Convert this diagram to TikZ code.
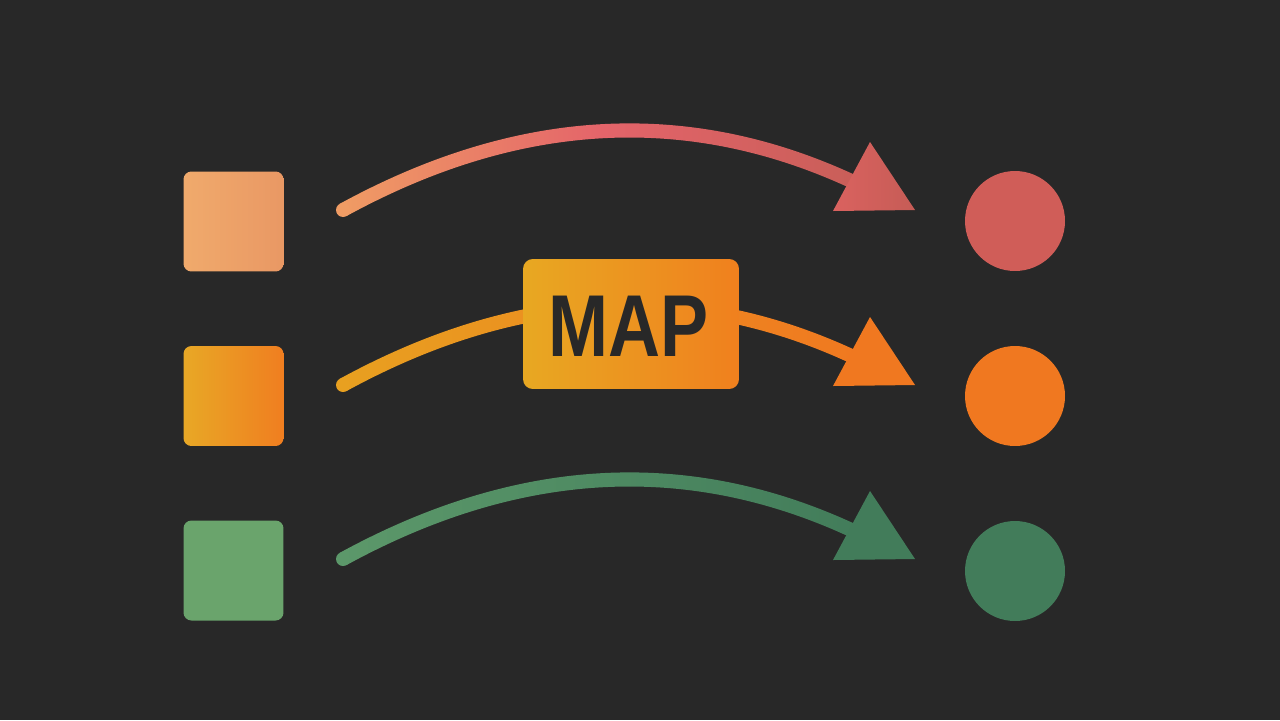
\documentclass[tikz,border=0pt]{standalone}
\usepackage{fontspec}
\newfontfamily\mapfont{Liberation Sans}
\usetikzlibrary{calc}
\definecolor{bg}{HTML}{282828}
\definecolor{sqA1}{HTML}{F0AA6C}
\definecolor{sqA2}{HTML}{E99864}
\definecolor{sqB1}{HTML}{E8A826}
\definecolor{sqB2}{HTML}{F07E20}
\definecolor{sqC}{HTML}{6AA46C}
\definecolor{ciA}{HTML}{D05D58}
\definecolor{ciB}{HTML}{F07820}
\definecolor{ciC}{HTML}{427C5A}
\definecolor{cuA1}{HTML}{F09C64}
\definecolor{cuA2}{HTML}{E4646A}
\definecolor{cuA3}{HTML}{C85E58}
\definecolor{cuB1}{HTML}{E8A020}
\definecolor{cuB2}{HTML}{EC8C20}
\definecolor{cuB3}{HTML}{F07820}
\definecolor{cuC1}{HTML}{5C986A}
\definecolor{cuC2}{HTML}{4E8A62}
\definecolor{cuC3}{HTML}{427C5A}
\definecolor{trA1}{HTML}{DA625F}
\definecolor{trA2}{HTML}{C65C56}
\definecolor{mapA}{HTML}{E8A822}
\definecolor{mapB}{HTML}{F0801E}
\newcommand\gradconn[4]{%
  \coordinate (s#1t) at ($(s#1)!0.14cm!90:(k#1)$);
  \coordinate (s#1b) at ($(s#1)!0.14cm!-90:(k#1)$);
  \coordinate (e#1t) at ($(e#1)!0.14cm!-90:(k#1)$);
  \coordinate (e#1b) at ($(e#1)!0.14cm!90:(k#1)$);
  \coordinate (k#1t) at ($(k#1)+(0,-7.9)$);
  \coordinate (k#1b) at ($(k#1)+(0,7.9)$);
  \shade[left color=#2, right color=#4, middle color=#3]
    (s#1t) .. controls ($(s#1t)!0.6667!(k#1t)$) and ($(e#1t)!0.6667!(k#1t)$) .. (e#1t)
    -- (e#1b) .. controls ($(e#1b)!0.6667!(k#1b)$) and ($(s#1b)!0.6667!(k#1b)$) .. (s#1b)
    -- cycle;
  \fill[#2] (s#1) circle[radius=0.14cm];
}
\tikzset{
  sqnode/.style={minimum width=2cm, minimum height=2cm, rounded corners=4.5pt, inner sep=0pt},
  cinode/.style={circle, minimum size=2cm, inner sep=0pt},
  mapbox/.style={minimum width=4.32cm, minimum height=2.6cm, rounded corners=5.6pt, inner sep=0pt, left color=mapA, right color=mapB},
  maptext/.style={inner sep=0pt, text=bg, font=\mapfont\bfseries\fontsize{50}{50}\selectfont, xscale=0.82}
}
\begin{document}
\begin{tikzpicture}[x=0.02cm, y=-0.02cm]
\fill[bg] (0,0) rectangle (1280,720);
\useasboundingbox (0,0) rectangle (1280,720);
% source squares
\node[sqnode, left color=sqA1, right color=sqA2] (sq1) at (233.5,221.5) {};
\node[sqnode, left color=sqB1, right color=sqB2] (sq2) at (233.5,396) {};
\node[sqnode, fill=sqC] (sq3) at (233.5,570.5) {};
% target circles
\node[cinode, fill=ciA] (c1) at (1015,221) {};
\node[cinode, fill=ciB] (c2) at (1015,396) {};
\node[cinode, fill=ciC] (c3) at (1015,571) {};
% connector geometry
\coordinate (s1) at (343,210); \coordinate (k1) at (610,64);  \coordinate (e1) at (862,186);
\coordinate (s2) at (343,385); \coordinate (k2) at (610,239); \coordinate (e2) at (862,361);
\coordinate (s3) at (343,559); \coordinate (k3) at (610,413); \coordinate (e3) at (862,535);
\gradconn{1}{cuA1}{cuA2}{cuA3}
\gradconn{2}{cuB1}{cuB2}{cuB3}
\gradconn{3}{cuC1}{cuC2}{cuC3}
% arrowheads
\coordinate (t1a) at (870,142); \coordinate (t1b) at (833,211); \coordinate (t1c) at (915,210);
\coordinate (t2a) at (870,317); \coordinate (t2b) at (833,386); \coordinate (t2c) at (915,385);
\coordinate (t3a) at (870,491); \coordinate (t3b) at (833,560); \coordinate (t3c) at (915,559);
\shade[left color=trA1, right color=trA2] (t1a) -- (t1b) -- (t1c) -- cycle;
\fill[ciB] (t2a) -- (t2b) -- (t2c) -- cycle;
\fill[ciC] (t3a) -- (t3b) -- (t3c) -- cycle;
% MAP label
\node[mapbox] (map) at (631,324) {};
\node[maptext] (maplabel) at (628.5,326.5) {MAP};
\end{tikzpicture}
\end{document}
